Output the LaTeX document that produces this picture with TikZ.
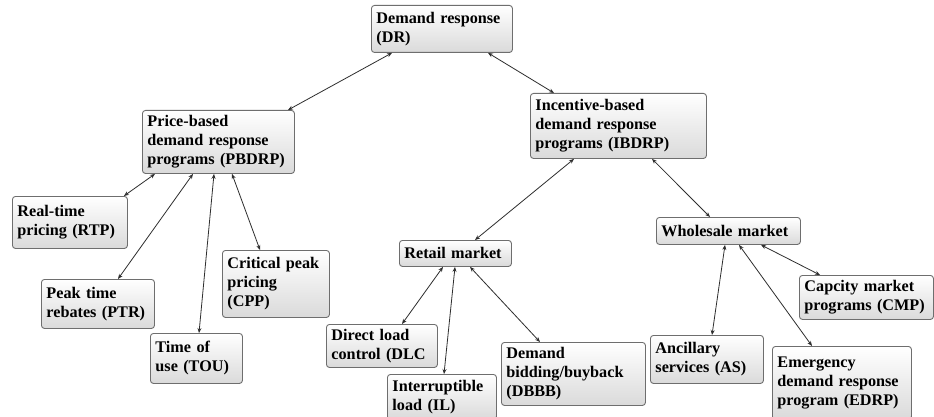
\documentclass[tikz,border=0pt]{standalone}
\usepackage{fontspec}
\setmainfont{Liberation Serif}
\usetikzlibrary{arrows.meta}
\definecolor{boxline}{HTML}{6E6E6E}
\definecolor{boxbot}{HTML}{DADADA}
\definecolor{linkc}{HTML}{2E2E2E}
\begin{document}
\begin{tikzpicture}[x=1pt,y=-1pt,
  box/.style={draw=boxline, line width=0.9pt, rounded corners=3pt,
    top color=white, bottom color=boxbot, anchor=north west,
    inner xsep=5pt, inner ysep=0pt, align=left,
    font=\fontsize{16.2}{19}\selectfont\bfseries},
  link/.style={draw=linkc, line width=0.8pt,
    {Stealth[length=5pt,width=4pt]}-{Stealth[length=5pt,width=4pt]}}]
\useasboundingbox[fill=white] (0,0) rectangle (934,417);

\node[box, text width=131pt, minimum height=47pt] (dr) at (371,5) {Demand response\\(DR)};
\node[box, text width=142pt, minimum height=63pt] (pb) at (142,110) {Price-based\\demand response\\programs (PBDRP)};
\node[box, text width=166pt, minimum height=65pt] (ib) at (530,93) {Incentive-based\\demand response\\programs (IBDRP)};
\node[box, text width=105pt, minimum height=52pt] (rtp) at (12,196) {Real-time\\pricing (RTP)};
\node[box, text width=103pt, minimum height=49pt] (ptr) at (41,279) {Peak time\\rebates (PTR)};
\node[box, text width=82pt, minimum height=50pt] (tou) at (150,333) {Time of\\use (TOU)};
\node[box, text width=97pt, minimum height=67pt] (cpp) at (222,250) {Critical peak\\pricing\\(CPP)};
\node[box, text width=102pt, minimum height=26pt] (rm) at (399,240) {Retail market};
\node[box, text width=101pt, minimum height=43pt] (dlc) at (326,324) {Direct load\\control (DLC};
\node[box, text width=99pt, minimum height=45pt] (il) at (387,374) {Interruptible\\load (IL)};
\node[box, text width=134pt, minimum height=63pt] (dbbb) at (501,342) {Demand\\bidding/buyback\\(DBBB)};
\node[box, text width=134pt, minimum height=27pt] (wm) at (656,217) {Wholesale market};
\node[box, text width=124pt, minimum height=44pt] (cmp) at (799,275) {Capcity market\\programs (CMP)};
\node[box, text width=103pt, minimum height=48pt] (as) at (650,335) {Ancillary\\services (AS)};
\node[box, text width=129pt, minimum height=73pt] (edrp) at (772,346) {Emergency\\demand response\\program (EDRP)};

\draw[link] ([xshift=21pt]dr.south west) -- ([xshift=146pt]pb.north west);
\draw[link] ([xshift=117pt]dr.south west) -- ([xshift=24pt]ib.north west);
\draw[link] ([xshift=13pt]pb.south west) -- ([xshift=-4pt]rtp.north east);
\draw[link] ([xshift=51pt]pb.south west) -- ([xshift=77pt]ptr.north west);
\draw[link] ([xshift=72pt]pb.south west) -- ([xshift=49pt]tou.north west);
\draw[link] ([xshift=90pt]pb.south west) -- ([xshift=38pt]cpp.north west);
\draw[link] ([xshift=44pt]ib.south west) -- ([xshift=76pt]rm.north west);
\draw[link] ([xshift=122pt]ib.south west) -- ([xshift=54pt]wm.north west);
\draw[link] ([xshift=44pt]rm.south west) -- ([xshift=76pt]dlc.north west);
\draw[link] ([xshift=56pt]rm.south west) -- ([xshift=57pt]il.north west);
\draw[link] ([xshift=71pt]rm.south west) -- ([xshift=39pt]dbbb.north west);
\draw[link] ([xshift=69pt]wm.south west) -- ([xshift=62pt]as.north west);
\draw[link] ([xshift=83pt]wm.south west) -- ([xshift=40pt]edrp.north west);
\draw[link] ([xshift=105pt]wm.south west) -- ([xshift=21pt]cmp.north west);
\end{tikzpicture}
\end{document}
